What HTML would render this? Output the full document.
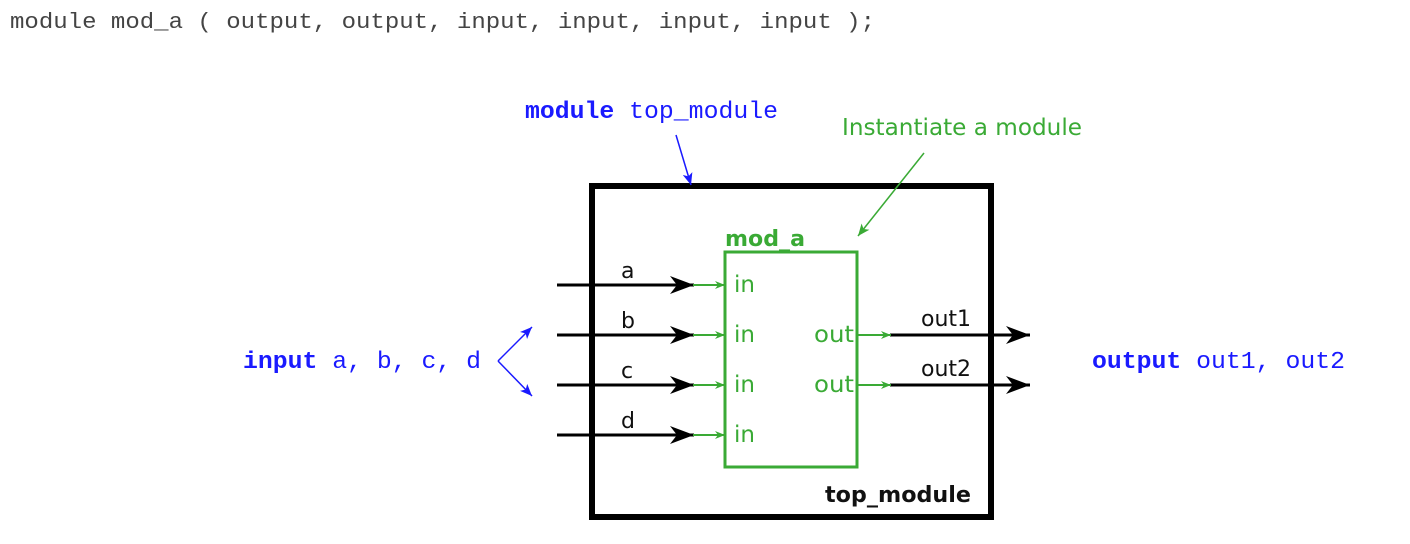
<!DOCTYPE html>
<html><head><meta charset="utf-8"><style>
html,body{margin:0;padding:0;background:#fff;width:1410px;height:544px;overflow:hidden}
svg{display:block}
.mono{font-family:"Liberation Mono",monospace}
.sans{font-family:"DejaVu Sans","Liberation Sans",sans-serif}
</style></head><body>
<svg width="1410" height="544" viewBox="0 0 1410 544" xmlns="http://www.w3.org/2000/svg">
<defs>
<marker id="bk" viewBox="0 0 24 18" refX="24" refY="9" markerWidth="24" markerHeight="18" markerUnits="userSpaceOnUse" orient="auto"><path d="M0,0 L24,9 L0,18 L7,9 Z" fill="#000"/></marker>
<marker id="gr" viewBox="0 0 10 8" refX="10" refY="4" markerWidth="10" markerHeight="8" markerUnits="userSpaceOnUse" orient="auto"><path d="M0,0 L10,4 L0,8 L3,4 Z" fill="#3aaa35"/></marker>
<marker id="bl" viewBox="0 0 12 10" refX="12" refY="5" markerWidth="12" markerHeight="10" markerUnits="userSpaceOnUse" orient="auto"><path d="M0,0 L12,5 L0,10 L3,5 Z" fill="#1a1aff"/></marker>
<marker id="gl" viewBox="0 0 12 10" refX="12" refY="5" markerWidth="12" markerHeight="10" markerUnits="userSpaceOnUse" orient="auto"><path d="M0,0 L12,5 L0,10 L3,5 Z" fill="#3aaa35"/></marker>
</defs>
<text x="10" y="28" class="mono" font-size="22" fill="#444" textLength="865" lengthAdjust="spacingAndGlyphs">module mod_a ( output, output, input, input, input, input );</text>

<rect x="592" y="186" width="399" height="331" fill="none" stroke="#000" stroke-width="6"/>
<rect x="725" y="252" width="132" height="215" fill="none" stroke="#3aaa35" stroke-width="3"/>

<g stroke="#000" stroke-width="3">
<line x1="557" y1="285" x2="694" y2="285" marker-end="url(#bk)"/>
<line x1="557" y1="335" x2="694" y2="335" marker-end="url(#bk)"/>
<line x1="557" y1="385" x2="694" y2="385" marker-end="url(#bk)"/>
<line x1="557" y1="435" x2="694" y2="435" marker-end="url(#bk)"/>
<line x1="890" y1="335" x2="1030" y2="335" marker-end="url(#bk)"/>
<line x1="890" y1="385" x2="1030" y2="385" marker-end="url(#bk)"/>
</g>
<g stroke="#3aaa35" stroke-width="2">
<line x1="693" y1="285" x2="725" y2="285" marker-end="url(#gr)"/>
<line x1="693" y1="335" x2="725" y2="335" marker-end="url(#gr)"/>
<line x1="693" y1="385" x2="725" y2="385" marker-end="url(#gr)"/>
<line x1="693" y1="435" x2="725" y2="435" marker-end="url(#gr)"/>
<line x1="858" y1="335" x2="891" y2="335" marker-end="url(#gr)"/>
<line x1="858" y1="385" x2="891" y2="385" marker-end="url(#gr)"/>
</g>
<g class="sans" font-size="22" fill="#111">
<text x="621" y="278">a</text>
<text x="621" y="328">b</text>
<text x="621" y="378">c</text>
<text x="621" y="428">d</text>
<text x="921" y="326">out1</text>
<text x="921" y="376">out2</text>
</g>
<g class="sans" font-size="23" fill="#3aaa35">
<text x="734" y="292">in</text>
<text x="734" y="342">in</text>
<text x="734" y="392">in</text>
<text x="734" y="442">in</text>
<text x="814" y="342" textLength="40" lengthAdjust="spacingAndGlyphs">out</text>
<text x="814" y="392" textLength="40" lengthAdjust="spacingAndGlyphs">out</text>
</g>
<text x="725" y="246" class="sans" font-size="22" font-weight="bold" fill="#3aaa35" textLength="80" lengthAdjust="spacingAndGlyphs">mod_a</text>
<text x="825" y="502" class="sans" font-size="22" font-weight="bold" fill="#111" textLength="146" lengthAdjust="spacingAndGlyphs">top_module</text>
<text x="842" y="135" class="sans" font-size="23" fill="#3aaa35" textLength="240" lengthAdjust="spacingAndGlyphs">Instantiate a module</text>
<line x1="924" y1="153" x2="858" y2="236" stroke="#3aaa35" stroke-width="1.5" marker-end="url(#gl)"/>

<text x="525" y="118" class="mono" font-size="24" fill="#1a1aff" textLength="253" lengthAdjust="spacingAndGlyphs"><tspan font-weight="bold">module</tspan> top_module</text>
<line x1="676" y1="135" x2="691" y2="185" stroke="#1a1aff" stroke-width="1.5" marker-end="url(#bl)"/>

<text x="243" y="368" class="mono" font-size="24" fill="#1a1aff" textLength="238" lengthAdjust="spacingAndGlyphs"><tspan font-weight="bold">input</tspan> a, b, c, d</text>
<line x1="498" y1="361" x2="532" y2="327" stroke="#1a1aff" stroke-width="1.5" marker-end="url(#bl)"/>
<line x1="498" y1="361" x2="532" y2="396" stroke="#1a1aff" stroke-width="1.5" marker-end="url(#bl)"/>

<text x="1092" y="368" class="mono" font-size="24" fill="#1a1aff" textLength="253" lengthAdjust="spacingAndGlyphs"><tspan font-weight="bold">output</tspan> out1, out2</text>
</svg>
</body></html>
